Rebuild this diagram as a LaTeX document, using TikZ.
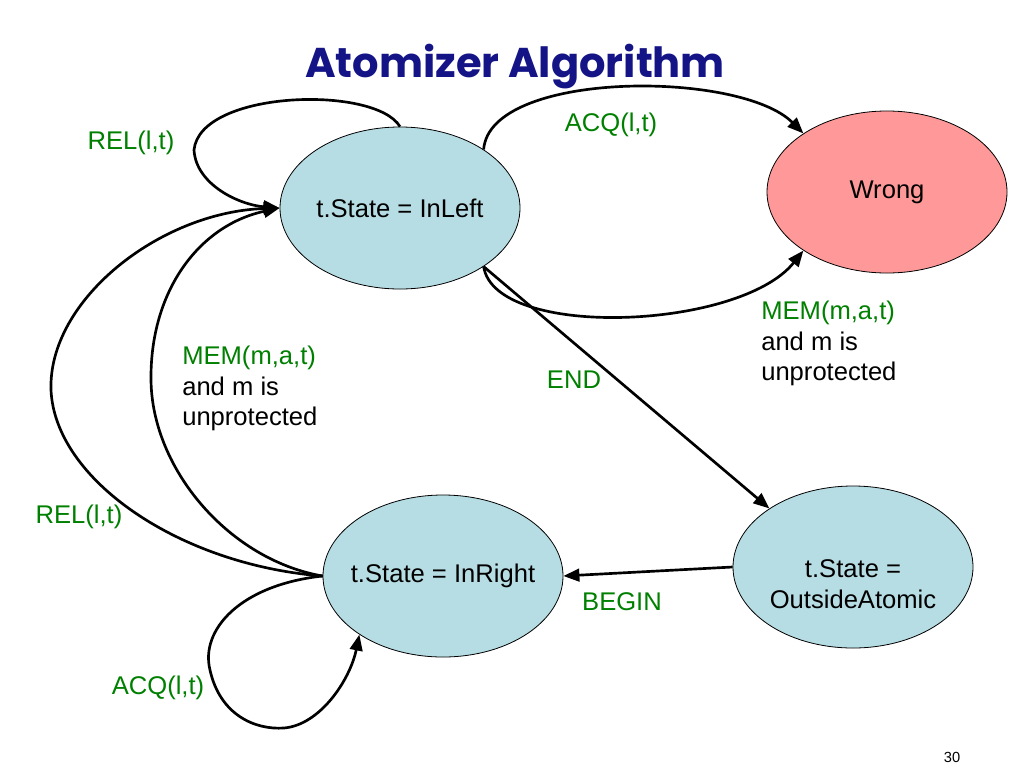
\documentclass[tikz,border=0pt]{standalone}
\usepackage{fontspec}
\usepackage{graphicx}
\setmainfont{Liberation Sans}
\newfontfamily\titlefont{Poppins}
\usetikzlibrary{shapes.geometric,arrows.meta}
\definecolor{lblgreen}{RGB}{0,128,0}
\definecolor{stcyan}{RGB}{183,221,228}
\definecolor{stpink}{RGB}{255,153,153}
\definecolor{titleblue}{RGB}{20,20,135}
\begin{document}
\begin{tikzpicture}[x=0.75pt,y=-0.75pt,
  statebox/.style={ellipse,draw=black,line width=0.6pt,fill=stcyan,minimum width=180pt,minimum height=121.5pt,inner sep=0pt},
  wrongbox/.style={statebox,fill=stpink},
  txt/.style={font=\fontsize{19.2}{22.8}\selectfont,inner sep=0pt,align=left},
  lbl/.style={txt,text=lblgreen},
  edge/.style={line width=2pt,-{Triangle[length=12pt,width=9.5pt]}},
]
\useasboundingbox (0,0) rectangle (1024,768);
\fill[white] (0,0) rectangle (1024,768);

\node[anchor=base,text=titleblue,inner sep=0pt] (title) at (515,77) {\resizebox{315pt}{!}{\fontsize{30}{36}\titlefont\bfseries Atomizer Algorithm}};

\node[statebox] (inleft) at (400,208) {};
\node[wrongbox] (wrong) at (887,192) {};
\node[statebox] (inright) at (443,576) {};
\node[statebox] (outside) at (853,567) {};

\node[txt] (tinleft) at (inleft) {t.State = InLeft};
\node[txt] (twrong) at (wrong) {Wrong};
\node[txt] (tinright) at (inright) {t.State = InRight};
\node[txt,align=center] (toutside) at (853,584) {t.State =\\OutsideAtomic};

\draw[edge] (inleft.north) .. controls (375,85) and (200,90) .. (194,150) .. controls (196,185) and (240,205) .. (inleft.west);
\draw[edge] (inleft.35) .. controls (490,70) and (740,70) .. (wrong.145);
\draw[edge] (inleft.-35) .. controls (495,340) and (740,330) .. (wrong.215);
\draw[edge] (inleft.-35) -- (outside.145);
\draw[edge] (outside.west) -- (inright.east);
\draw[edge] (inright.west) .. controls (180,565) and (55,480) .. (51,390) .. controls (48,300) and (160,212) .. (inleft.west);
\draw[edge] (inright.west) .. controls (230,560) and (152,470) .. (151,380) .. controls (150,290) and (200,225) .. (inleft.west);
\draw[edge] (inright.west) .. controls (240,585) and (200,630) .. (210,670) .. controls (220,715) and (255,730) .. (284,728) .. controls (320,725) and (350,680) .. (inright.215);

\node[lbl] (l1) at (131,143) {REL(l,t)};
\node[lbl] (l2) at (611,125) {ACQ(l,t)};
\node[txt,anchor=north west] (l3) at (761,301) {\textcolor{lblgreen}{MEM(m,a,t)}\\and m is\\unprotected};
\node[txt,anchor=north west] (l4) at (182,346) {\textcolor{lblgreen}{MEM(m,a,t)}\\and m is\\unprotected};
\node[lbl] (l5) at (574,380) {END};
\node[lbl] (l6) at (79,517) {REL(l,t)};
\node[lbl] (l7) at (622,602) {BEGIN};
\node[lbl] (l8) at (158,688) {ACQ(l,t)};

\node[font=\fontsize{11}{13}\selectfont,inner sep=0pt] (pg) at (952,757) {30};
\end{tikzpicture}
\end{document}
